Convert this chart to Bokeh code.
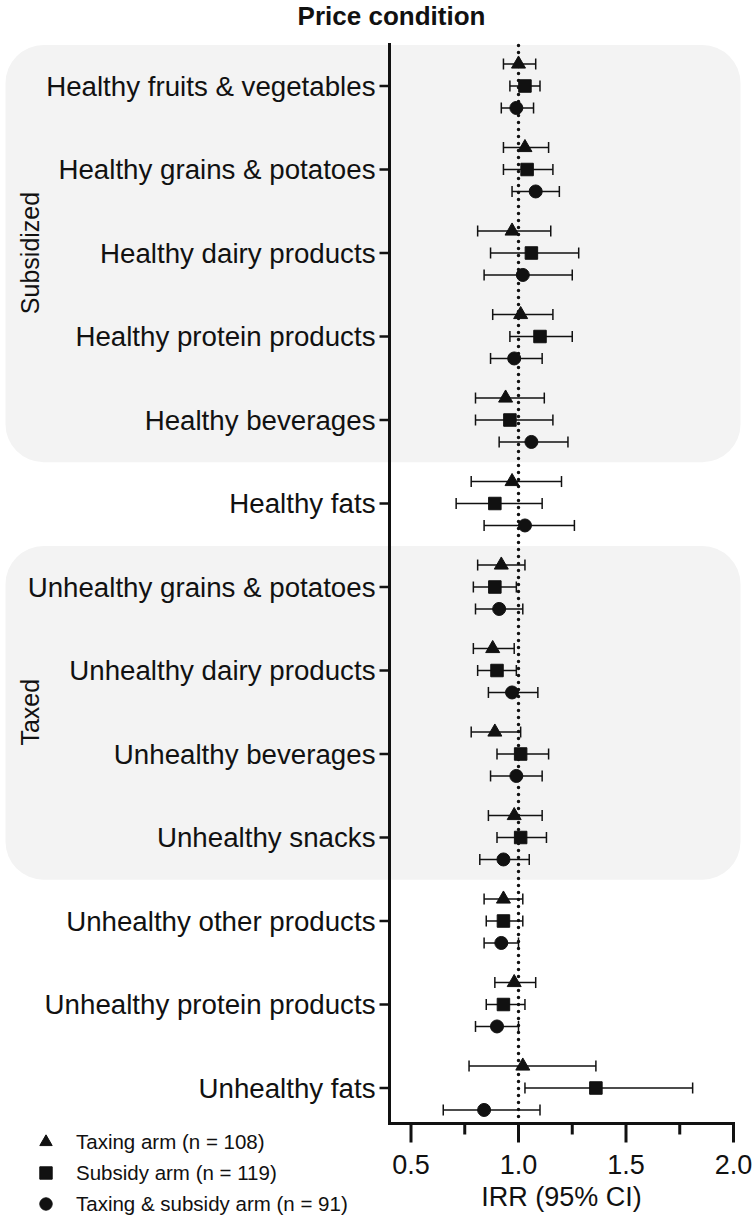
import math
from bokeh.plotting import figure
from bokeh.models import (Range1d, BoxAnnotation, Whisker, TeeHead, ColumnDataSource,
                          Legend, LegendItem)
from bokeh.core.properties import value
from bokeh.transform import dodge
from bokeh.embed import file_html
from bokeh.resources import INLINE

categories = [
    "Healthy fruits & vegetables", "Healthy grains & potatoes", "Healthy dairy products",
    "Healthy protein products", "Healthy beverages", "Healthy fats",
    "Unhealthy grains & potatoes", "Unhealthy dairy products", "Unhealthy beverages",
    "Unhealthy snacks", "Unhealthy other products", "Unhealthy protein products", "Unhealthy fats",
]
taxing_irr = [1.00, 1.03, 0.97, 1.01, 0.94, 0.97, 0.92, 0.88, 0.89, 0.98, 0.93, 0.98, 1.02]
taxing_lo  = [0.93, 0.93, 0.81, 0.88, 0.80, 0.78, 0.81, 0.79, 0.78, 0.86, 0.84, 0.89, 0.77]
taxing_hi  = [1.08, 1.14, 1.15, 1.16, 1.12, 1.20, 1.03, 0.98, 1.01, 1.11, 1.02, 1.08, 1.36]
subsidy_irr = [1.03, 1.04, 1.06, 1.10, 0.96, 0.89, 0.89, 0.90, 1.01, 1.01, 0.93, 0.93, 1.36]
subsidy_lo  = [0.96, 0.93, 0.87, 0.96, 0.80, 0.71, 0.79, 0.81, 0.90, 0.90, 0.85, 0.85, 1.03]
subsidy_hi  = [1.10, 1.16, 1.28, 1.25, 1.16, 1.11, 0.99, 0.99, 1.14, 1.13, 1.02, 1.03, 1.81]
both_irr = [0.99, 1.08, 1.02, 0.98, 1.06, 1.03, 0.91, 0.97, 0.99, 0.93, 0.92, 0.90, 0.84]
both_lo  = [0.92, 0.97, 0.84, 0.87, 0.91, 0.84, 0.80, 0.86, 0.87, 0.82, 0.84, 0.80, 0.65]
both_hi  = [1.07, 1.19, 1.25, 1.11, 1.23, 1.26, 1.02, 1.09, 1.11, 1.05, 1.00, 1.00, 1.10]

arm_labels = ["Taxing arm (n = 108)", "Subsidy arm (n = 119)", "Taxing & subsidy arm (n = 91)"]
x_ticks = [0.5, 1.0, 1.5, 2.0]
x_minor = [0.75, 1.25, 1.75]
groups = [("Subsidized", 0, 4), ("Taxed", 6, 9)]
title_text = "Price condition"
x_label = "IRR (95% CI)"

FONT = "Liberation Sans"
INK = "#111111"
rows = list(range(len(categories)))

# ---- layout geometry (pixels) ----
W, H = 754, 1222
AX_LEFT, AX_RIGHT, AX_TOP, AX_BOTTOM = 389, 733, 44, 1123
X_MIN, X_MAX = 0.4, 2.0
ROW0_PX, ROW_PX = 85.5, 83.5
xs = (AX_RIGHT - AX_LEFT) / (X_MAX - X_MIN)
x_range = Range1d(X_MIN - AX_LEFT / xs, X_MAX + (W - AX_RIGHT) / xs)
y_range = Range1d((H - ROW0_PX) / ROW_PX, -ROW0_PX / ROW_PX)


def X(px):
    return x_range.start + px / xs


def Y(py):
    return (py - ROW0_PX) / ROW_PX


p = figure(width=W, height=H, output_backend="svg", toolbar_location=None,
           x_range=x_range, y_range=y_range, x_axis_location=None, y_axis_location=None,
           min_border=0, min_border_left=0, min_border_right=0, min_border_top=0,
           min_border_bottom=0)
p.outline_line_color = None
p.xgrid.visible = False
p.ygrid.visible = False
p.background_fill_color = "white"
p.border_fill_color = "white"

# shaded group boxes + side labels
for name, r0, r1 in groups:
    p.add_layout(BoxAnnotation(left=X(5), right=X(740), top=r0 - 0.49, bottom=r1 + 0.505,
                               fill_color="#f3f3f3", fill_alpha=1.0, line_color=None,
                               border_radius=38, level="underlay"))
gsrc = ColumnDataSource(dict(name=[g[0] for g in groups],
                             mid=[(g[1] + g[2]) / 2 for g in groups]))
p.text(x=X(29), y="mid", text="name", source=gsrc, angle=math.pi / 2,
       text_align="center", text_baseline="middle", text_font=value(FONT),
       text_font_size=value("25px"), text_color=INK)

# reference line at IRR = 1
p.segment(x0=[1.0], y0=[Y(AX_TOP + 1)], x1=[1.0], y1=[Y(AX_BOTTOM)], line_color=INK,
          line_width=3.5, line_dash="0 7", line_cap="round")

# series
series = [
    (taxing_irr, taxing_lo, taxing_hi, "triangle", 14, -0.263),
    (subsidy_irr, subsidy_lo, subsidy_hi, "square", 12.5, 0.0),
    (both_irr, both_lo, both_hi, "circle", 13, 0.263),
]
renderers = []
for irr, lo, hi, marker, size, off in series:
    src = ColumnDataSource(dict(row=rows, irr=irr, lo=lo, hi=hi))
    p.add_layout(Whisker(source=src, base=dodge("row", off, range=p.y_range), lower="lo",
                         upper="hi", dimension="width", line_color=INK, line_width=1.5,
                         upper_head=TeeHead(size=11, line_width=1.5, line_color=INK),
                         lower_head=TeeHead(size=11, line_width=1.5, line_color=INK)))
    r = p.scatter(x="irr", y=dodge("row", off, range=p.y_range), source=src, marker=marker,
                  size=size, fill_color=INK, line_color=INK)
    renderers.append(r)

# ---- axes drawn on the data scales ----
p.segment(x0=[X_MIN, X_MIN], y0=[Y(AX_TOP), Y(AX_BOTTOM)], x1=[X_MIN, X_MAX],
          y1=[Y(AX_BOTTOM), Y(AX_BOTTOM)], line_color=INK, line_width=3, line_cap="square")
# y ticks + category labels
p.segment(x0=[X_MIN] * len(rows), y0=rows, x1=[X(379)] * len(rows), y1=rows,
          line_color=INK, line_width=2.5)
csrc = ColumnDataSource(dict(row=rows, name=categories))
p.text(x=X(375), y="row", text="name", source=csrc, text_align="right",
       text_baseline="middle", text_font=value(FONT), text_font_size=value("27.7px"),
       text_color=INK)
# x ticks
p.segment(x0=x_ticks, y0=[Y(AX_BOTTOM)] * len(x_ticks), x1=x_ticks,
          y1=[Y(AX_BOTTOM + 19)] * len(x_ticks), line_color=INK, line_width=3)
p.segment(x0=x_minor, y0=[Y(AX_BOTTOM)] * len(x_minor), x1=x_minor,
          y1=[Y(AX_BOTTOM + 11)] * len(x_minor), line_color=INK, line_width=3)
p.text(x=x_ticks, y=[Y(1164)] * len(x_ticks), text=[f"{t:.1f}" for t in x_ticks],
       text_align="center", text_baseline="middle", text_font=value(FONT),
       text_font_size=value("27px"), text_color=INK)
p.text(x=[(X_MIN + X_MAX) / 2], y=[Y(1196)], text=[x_label], text_align="center",
       text_baseline="middle", text_font=value(FONT), text_font_size=value("27px"),
       text_color=INK)
# title
p.text(x=[X(391)], y=[Y(15)], text=[title_text], text_align="center",
       text_baseline="middle", text_font=value(FONT), text_font_size=value("26px"),
       text_font_style="bold", text_color=INK)

legend = Legend(items=[LegendItem(label=l, renderers=[r]) for l, r in zip(arm_labels, renderers)],
                location=(30, 3), orientation="vertical", padding=0, margin=0, spacing=0,
                glyph_width=31, glyph_height=31, label_height=31, label_standoff=15,
                label_text_font=FONT, label_text_font_size="20.5px", label_text_color=INK,
                background_fill_alpha=0, border_line_color=None)
p.add_layout(legend)

open("out.html", "w").write(file_html(p, INLINE))
